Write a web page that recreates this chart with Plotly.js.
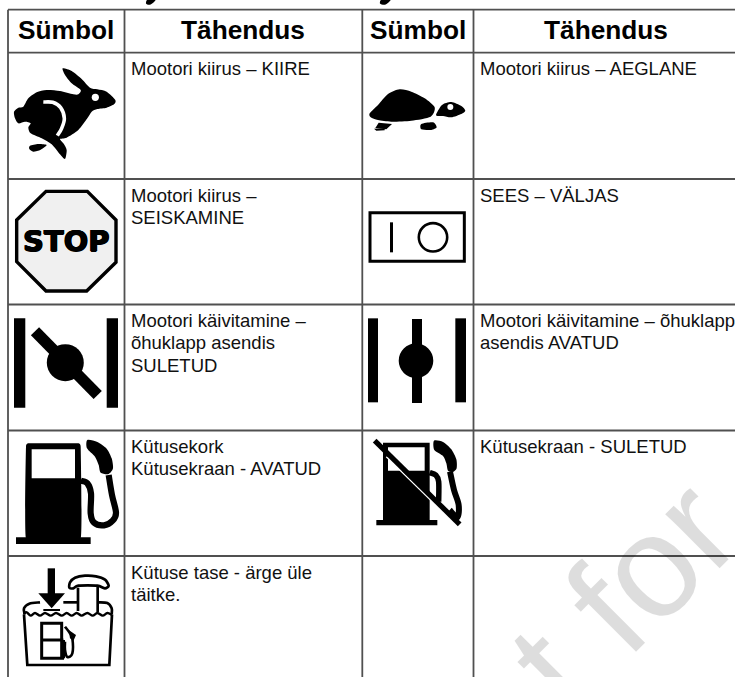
<!DOCTYPE html>
<html><head><meta charset="utf-8">
<script src="https://cdn.plot.ly/plotly-3.0.1.min.js"></script>
<style>html,body{margin:0;padding:0;background:#fff;overflow:hidden}#c{width:735px;height:677px}</style>
</head><body><div id="c"></div>
<script>
// ---- content ----
const headers = ["Sümbol","Tähendus","Sümbol","Tähendus"];
const meaningsLeft = [
  ["Mootori kiirus – KIIRE"],
  ["Mootori kiirus –","SEISKAMINE"],
  ["Mootori käivitamine –","õhuklapp asendis","SULETUD"],
  ["Kütusekork","Kütusekraan - AVATUD"],
  ["Kütuse tase - ärge üle","täitke."]
];
const meaningsRight = [
  ["Mootori kiirus – AEGLANE"],
  ["SEES – VÄLJAS"],
  ["Mootori käivitamine – õhuklapp","asendis AVATUD"],
  ["Kütusekraan - SULETUD"],
  []
];
const watermark = "Not for";
const stopLabel = "STOP";

// ---- table geometry (page pixels = axis units) ----
const colEdges = [8,124.5,362.3,473.5];
const rowEdges = [9.7,52.7,179,304.5,430.5,556];
const W = 735, H = 677;
const gridColor = "#505050";

// ---- helpers ----
const fmt = p => p[0].toFixed(2)+","+p[1].toFixed(2);
const Z = (ox,oy,pts) => pts.map(p=>[ox+p[0]/3, oy+p[1]/3]);
const poly = (pts,closed=true) => "M"+pts.map(fmt).join(" L")+(closed?" Z":"");
function smooth(pts,closed=true,t=6){
  const n=pts.length, g=i=>closed?pts[(i+n)%n]:pts[Math.max(0,Math.min(n-1,i))];
  let d="M"+fmt(pts[0]);
  const m=closed?n:n-1;
  for(let i=0;i<m;i++){
    const a=g(i-1),b=g(i),c=g(i+1),e=g(i+2);
    d+=" C"+fmt([b[0]+(c[0]-a[0])/t,b[1]+(c[1]-a[1])/t])+" "+fmt([c[0]-(e[0]-b[0])/t,c[1]-(e[1]-b[1])/t])+" "+fmt(c);
  }
  return d+(closed?" Z":"");
}
const fill = (path,color="#000") => ({type:"path",path,fillcolor:color,line:{width:0},layer:"above"});
const stroke = (path,width,color="#000") => ({type:"path",path,fillcolor:"rgba(0,0,0,0)",line:{color,width},layer:"above"});
const rect = (x0,y0,x1,y1,color="#000") => ({type:"rect",x0,y0,x1,y1,fillcolor:color,line:{width:0},layer:"above"});
const circ = (cx,cy,r,color="#000") => ({type:"circle",x0:cx-r,x1:cx+r,y0:cy-r,y1:cy+r,fillcolor:color,line:{width:0},layer:"above"});
const thick = (a,b,w,color="#000") => {
  const dx=b[0]-a[0],dy=b[1]-a[1],l=Math.hypot(dx,dy),nx=-dy/l*w/2,ny=dx/l*w/2;
  return fill(poly([[a[0]+nx,a[1]+ny],[b[0]+nx,b[1]+ny],[b[0]-nx,b[1]-ny],[a[0]-nx,a[1]-ny]]),color);
};

const shapes = [];
// clipped title descenders
shapes.push(fill(smooth([[146,3.5],[150,4.7],[154,2],[155.5,-1],[148,-1]])));
shapes.push(fill(smooth([[380,3.5],[385,4.7],[389,2],[390.5,-1],[382,-1]])));

// --- rabbit
{
 const R=(p)=>Z(10,55,p);
 shapes.push(fill(smooth(R([[158,40],[185,48],[215,72],[240,98],[262,103],[290,110],[316,135],[312,148],[290,158],[262,162],[245,170],[232,190],[205,225],[170,248],[150,252],[160,265],[170,285],[165,312],[150,298],[125,268],[95,250],[62,235],[55,218],[62,205],[45,200],[25,205],[15,190],[12,170],[25,158],[40,155],[55,130],[80,112],[110,105],[150,108],[190,118],[205,118],[212,105],[185,85],[165,60]]),true,8)));
 shapes.push(fill(smooth(R([[60,272],[85,267],[110,270],[92,284],[70,290],[58,282]]),true,8)));
 shapes.push(stroke(smooth(R([[100,141],[128,142],[152,158],[163,190],[155,220],[142,242]]),false),3.6,"#fff"));
 shapes.push(circ(10+256/3,55+127/3,3.6,"#fff"));
}
// --- turtle
{
 const T=(p)=>Z(368,0,p);
 shapes.push(fill(smooth(T([[5,340],[30,315],[60,282],[95,268],[130,275],[170,295],[200,322],[188,350],[130,362],[70,365],[30,360],[8,352]]),true,8)));
 shapes.push(fill(smooth(T([[204,346],[222,315],[250,306],[280,318],[292,332],[280,342],[250,352],[225,348]]),true,8)));
 shapes.push(circ(368+247/3,321/3,3,"#fff"));
 shapes.push(fill(poly(T([[32,368],[72,372],[55,388],[22,384]]))));
 shapes.push(fill(poly(T([[18,386],[50,385],[50,391],[25,392]]))));
 shapes.push(fill(smooth(T([[160,372],[195,367],[206,382],[190,390],[160,388]]),true,8)));
}
// --- stop sign
shapes.push({type:"path",path:poly(Z(0,175,[[138,49],[262,49],[348,135],[348,262],[260,348],[138,348],[50,260],[50,135]])),fillcolor:"#f0f0f0",line:{color:"#000",width:3.4},layer:"above"});
// --- switch
shapes.push({type:"rect",x0:368+6/3,x1:368+289/3,y0:175+113/3,y1:175+259/3,fillcolor:"rgba(0,0,0,0)",line:{color:"#000",width:3},layer:"above"});
shapes.push(rect(368+66/3,175+142/3,368+75/3,175+232/3));
shapes.push({type:"circle",x0:368+195/3-14.2,x1:368+195/3+14.2,y0:175+187/3-14.2,y1:175+187/3+14.2,fillcolor:"rgba(0,0,0,0)",line:{color:"#000",width:2.6},layer:"above"});
// --- choke closed
shapes.push(rect(14,175+430/3,25.3,175+698/3));
shapes.push(rect(106.7,175+430/3,118,175+698/3));
shapes.push(thick([35,175+469/3],[97.7,175+660/3],11.5));
shapes.push(circ(65.3,175+563/3,18.5));
// --- choke open
shapes.push(rect(368,175+430/3,378,175+682/3));
shapes.push(rect(368+262/3,175+430/3,368+294/3,175+682/3));
shapes.push(rect(368+132/3,175+432/3,368+162/3,175+684/3));
shapes.push(circ(368+144/3,175+557/3,17.3));
// --- pump
{
 const P=(p)=>Z(10,430,p);
 shapes.push(rect(10+18/3,430+322/3,10+242/3,430+342/3));
 shapes.push(fill(smooth(P([[48,325],[48,50],[58,40],[202,40],[212,50],[212,325]]),true,30)));
 shapes.push(rect(10+65/3,430+58/3,10+195/3,430+145/3,"#fff"));
 shapes.push(stroke(smooth(P([[212,152],[232,160],[243,190],[242,250],[252,278],[282,286],[308,272],[318,248],[306,195],[296,135]]),false),6.2));
 shapes.push(fill(smooth(P([[232,30],[262,36],[290,56],[305,85],[309,115],[296,132],[272,128],[266,105],[255,80],[231,55]]),true,8)));
}
// --- crossed pump
{
 const P=(p)=>Z(368,430,p);
 shapes.push(rect(368+25/3,430+270/3,368+208/3,430+286/3));
 shapes.push(fill(poly(P([[45,275],[45,38],[185,38],[185,275]]))));
 shapes.push(rect(368+60/3,430+52/3,368+170/3,430+122/3,"#fff"));
 shapes.push(stroke(smooth(P([[185,128],[203,135],[212,155],[212,215]]),false),5.5));
 shapes.push(stroke(smooth(P([[246,125],[258,180],[272,225],[268,262],[245,240]]),false),6));
 shapes.push(fill(smooth(P([[198,32],[225,36],[250,58],[265,88],[266,115],[255,126],[240,122],[235,100],[225,78],[199,60]]),true,8)));
 // thin white line + bar
 shapes.push(thick([368+55/3,430+80/3],[368+245/3,430+266/3],1.5,"#fff"));
 shapes.push(thick([368+20/3,430+32/3],[368+275/3,430+283/3],5.2));
}
// --- tank icon
{
 const K=(p)=>Z(10,555,p);
 shapes.push(rect(10+113/3,555+40/3,10+135/3,555+118/3));
 shapes.push(fill(poly(K([[85,115],[165,115],[125,160]]))));
 shapes.push(stroke(smooth(K([[178,98],[180,82],[195,68],[225,62],[258,64],[285,74],[296,92],[285,100],[262,92],[205,92],[190,100]]),true,8),2.7));
 shapes.push(stroke(poly(K([[204,98],[204,168]]),false),2.7));
 shapes.push(stroke(poly(K([[263,95],[263,172]]),false),2.7));
 shapes.push(stroke(smooth(K([[44,178],[42,160],[58,146],[90,142]]),false),2.7));
 shapes.push(stroke(poly(K([[160,142],[204,142]]),false),2.7));
 shapes.push(stroke(smooth(K([[263,142],[292,144],[305,160],[305,178]]),false),2.7));
 shapes.push(stroke(poly(K([[42,178],[52,330],[298,330],[306,178]]),false),2.7));
 shapes.push(stroke(smooth(K([[40,176],[50,172],[62,182],[75,174],[90,182],[105,174],[122,182],[138,174],[155,182],[170,174],[185,182],[200,174],[215,182],[232,174],[248,182],[262,174],[278,182],[292,174],[306,180]]),false),2.4));
 shapes.push(stroke(poly(K([[100,165],[150,165]]),false),2));
 shapes.push(stroke(poly(K([[155,310],[155,205],[95,205],[95,310],[162,310]]),false),3));
 shapes.push(stroke(poly(K([[95,255],[160,255]]),false),3));
 shapes.push(rect(10+155/3,555+255/3,10+165/3,555+310/3));
 shapes.push(stroke(smooth(K([[165,215],[178,232],[187,250],[187,295],[172,306],[165,285],[165,260]]),false),2.6));
 shapes.push(fill(poly(K([[176,225],[198,240],[190,258],[180,250]]))));
}

// ---- annotations ----
const annotations = [];
const bodySize = 18.5, headSize = 26.25, lineStep = 22.45;
const font = "Liberation Sans, Arial, sans-serif";
headers.forEach((h,i)=>{
  const x0=colEdges[i], x1=i<3?colEdges[i+1]:739;
  annotations.push({x:(x0+x1)/2,y:30,xref:"x",yref:"y",text:"<b>"+h+"</b>",showarrow:false,xanchor:"center",yanchor:"middle",borderpad:0,font:{family:font,size:headSize,color:"#000"}});
});
function addCol(list,x){
  list.forEach((lines,r)=>{
    lines.forEach((t,k)=>{
      annotations.push({x,y:rowEdges[r+1]+16+k*lineStep,xref:"x",yref:"y",text:t,showarrow:false,xanchor:"left",yanchor:"middle",borderpad:0,font:{family:font,size:bodySize,color:"#111"}});
    });
  });
}
addCol(meaningsLeft,130.2);
addCol(meaningsRight,478.6);
annotations.push({x:66.5,y:241,xref:"x",yref:"y",text:"<b>"+stopLabel+"</b>",showarrow:false,xanchor:"center",yanchor:"middle",borderpad:0,font:{family:"DejaVu Sans",size:29,color:"#000",shadow:"0.7px 0 0 #000, -0.7px 0 0 #000, 0 0.5px 0 #000, 0 -0.5px 0 #000"}});
annotations.push({x:557,y:660,xref:"x",yref:"y",text:watermark,showarrow:false,textangle:-45,xanchor:"center",yanchor:"middle",borderpad:0,font:{family:font,size:145,color:"rgba(0,0,0,0.135)"}});

// ---- grid as a line trace ----
const gx=[],gy=[];
rowEdges.forEach(y=>{gx.push(colEdges[0],W,null);gy.push(y,y,null);});
colEdges.forEach(x=>{gx.push(x,x,null);gy.push(rowEdges[0],H,null);});

Plotly.newPlot("c",[{type:"scatter",mode:"lines",x:gx,y:gy,line:{color:gridColor,width:1.8},hoverinfo:"skip",showlegend:false,cliponaxis:false}],{
  width:W,height:H,margin:{l:0,r:0,t:0,b:0,pad:0},paper_bgcolor:"#fff",plot_bgcolor:"#fff",showlegend:false,
  xaxis:{range:[0,W],visible:false,fixedrange:true},
  yaxis:{range:[H,0],visible:false,fixedrange:true},
  shapes,annotations
},{displayModeBar:false,staticPlot:true});
</script></body></html>
